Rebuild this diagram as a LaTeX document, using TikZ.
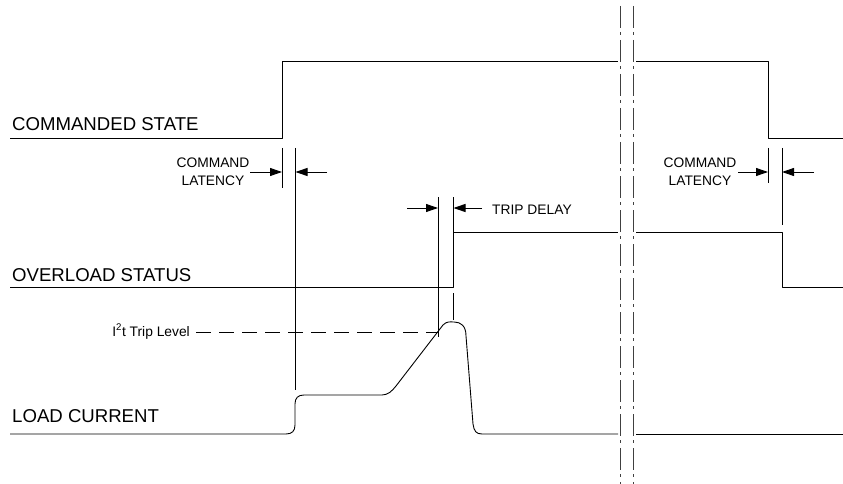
\documentclass[tikz,border=0pt]{standalone}
\usepackage{fontspec}
\setmainfont{Liberation Sans}
\usetikzlibrary{arrows.meta}
\begin{document}
\begin{tikzpicture}[x=1pt,y=-1pt,
  sig/.style={line width=0.9pt,black,line join=round},
  tickline/.style={line width=0.9pt,black},
  dimarrow/.style={line width=0.9pt,black,-{Triangle[length=12pt,width=8pt]}},
  brk/.style={line width=0.9pt,black!75,dash pattern=on 22pt off 4pt on 3pt off 5pt},
  lvl/.style={line width=0.9pt,black,dash pattern=on 15pt off 8pt},
  biglab/.style={anchor=base west,inner sep=0pt,font=\fontsize{18.6}{22}\selectfont},
  smalllab/.style={inner sep=0pt,font=\fontsize{13.8}{17}\selectfont}]
\useasboundingbox[fill=white] (0,0) rectangle (843,484);

% labels
\node[biglab] (cs) at (12,131) {COMMANDED STATE};
\node[biglab] (os) at (12,281) {OVERLOAD STATUS};
\node[biglab] (lc) at (12,422) {LOAD CURRENT};

% break lines
\coordinate (b1t) at (620.5,6); \coordinate (b1b) at (620.5,484);
\coordinate (b2t) at (633.5,6); \coordinate (b2b) at (633.5,484);
\draw[brk] (b1t) -- (b1b);
\draw[brk] (b2t) -- (b2b);

% commanded state
\draw[sig] (10,138) -- (282,138) -- (282,61) -- (618,61);
\draw[sig] (636,61) -- (768,61) -- (768,138) -- (843,138);

% overload status
\draw[sig] (10,287) -- (453.5,287) -- (453.5,232) -- (618,232);
\draw[sig] (636,232) -- (782,232) -- (782,287) -- (843,287);

% load current
\draw[sig] (10,434) -- (286,434) .. controls (292,434) and (295,431) .. (295,425)
  -- (295,404) .. controls (295,398) and (298,395) .. (304,395)
  -- (382,395) .. controls (388,395) and (392,391) .. (396,386)
  -- (443,325) .. controls (447,321) and (450,322) .. (454,322)
  .. controls (461,322) and (466,326) .. (466,336)
  -- (473,424) .. controls (474,431) and (476,434) .. (482,434) -- (618,434);
\draw[sig] (636,434) -- (843,434);

% command latency (left)
\coordinate (l1a) at (282,148); \coordinate (l1b) at (282,188);
\coordinate (l2a) at (295.5,148); \coordinate (l2b) at (295.5,390);
\draw[tickline] (l1a) -- (l1b);
\draw[tickline] (l2a) -- (l2b);
\node[smalllab,anchor=base] (cla) at (213,167) {COMMAND};
\node[smalllab,anchor=base] (clb) at (213,185) {LATENCY};
\coordinate (a1s) at (250,172); \coordinate (a1e) at (282,172);
\coordinate (a2s) at (327,172); \coordinate (a2e) at (295.5,172);
\draw[dimarrow] (a1s) -- (a1e);
\draw[dimarrow] (a2s) -- (a2e);

% command latency (right)
\coordinate (r1a) at (768,148); \coordinate (r1b) at (768,183);
\coordinate (r2a) at (782,148); \coordinate (r2b) at (782,225);
\draw[tickline] (r1a) -- (r1b);
\draw[tickline] (r2a) -- (r2b);
\node[smalllab,anchor=base] (cra) at (700,167) {COMMAND};
\node[smalllab,anchor=base] (crb) at (700,185) {LATENCY};
\coordinate (a3s) at (738,172); \coordinate (a3e) at (768,172);
\coordinate (a4s) at (814,172); \coordinate (a4e) at (782,172);
\draw[dimarrow] (a3s) -- (a3e);
\draw[dimarrow] (a4s) -- (a4e);

% trip delay
\coordinate (t1a) at (438,197); \coordinate (t1b) at (438,337);
\coordinate (t2a) at (453.5,197); \coordinate (t2b) at (453.5,232);
\coordinate (t3a) at (453.5,293); \coordinate (t3b) at (453.5,320);
\draw[tickline] (t1a) -- (t1b);
\draw[tickline] (t2a) -- (t2b);
\draw[tickline] (t3a) -- (t3b);
\coordinate (a5s) at (407,208); \coordinate (a5e) at (438,208);
\coordinate (a6s) at (482,208); \coordinate (a6e) at (453.5,208);
\draw[dimarrow] (a5s) -- (a5e);
\draw[dimarrow] (a6s) -- (a6e);
\node[smalllab,anchor=base west] (td) at (492,214) {TRIP DELAY};

% I2t trip level
\node[smalllab,anchor=base east] (itl) at (190,336) {I\textsuperscript{2}t Trip Level};
\coordinate (lv) at (438,332);
\draw[lvl] (196,332) -- (lv);
\end{tikzpicture}
\end{document}
